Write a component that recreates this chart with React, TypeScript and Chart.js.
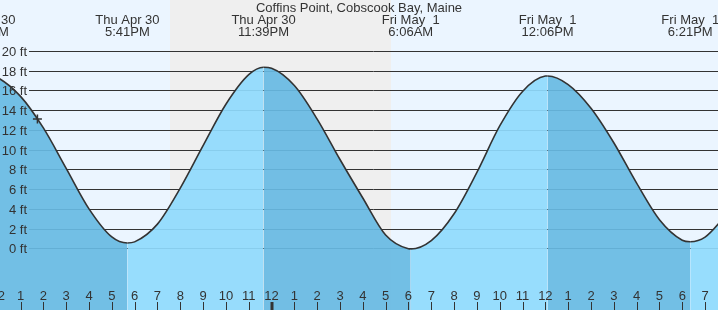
import React, { useEffect, useRef } from "react";
import { Chart, registerables } from "chart.js";

Chart.register(...registerables);

const TITLE = "Coffins Point, Cobscook Bay, Maine";

// hours counted from Thu Apr 30 00:00
const tideHours = [
  11.37, 12, 13, 14, 15, 16, 17, 17.683, 18, 19, 20, 21, 22, 23, 23.65, 24, 25,
  26, 27, 28, 29, 30, 30.1, 31, 32, 33, 34, 35, 36, 36.1, 37, 38, 39, 40, 41, 42,
  42.35, 43, 44,
];
const tideFeet = [
  17.7, 17.3, 15.4, 12.2, 8.1, 4.0, 1.15, 0.54, 0.65, 2.45, 6.1, 10.4, 14.6,
  17.6, 18.35, 18.25, 16.5, 13.1, 9.0, 5.1, 1.35, -0.05, -0.07, 0.78, 3.5, 7.7,
  12.4, 15.9, 17.46, 17.47, 16.6, 14.2, 10.7, 6.6, 2.9, 0.82, 0.67, 1.14, 3.6,
];

const eventHours = [11.37, 17.683, 23.65, 30.1, 36.1, 42.35];
const eventDays = [
  "Thu Apr 30",
  "Thu Apr 30",
  "Thu Apr 30",
  "Fri May  1",
  "Fri May  1",
  "Fri May  1",
];
const eventTimes = ["11:22AM", "5:41PM", "11:39PM", "6:06AM", "12:06PM", "6:21PM"];

const nightStarts = [19.55];
const nightEnds = [29.24];

const yTickFeet = [0, 2, 4, 6, 8, 10, 12, 14, 16, 18, 20];

const nowHour = 13.74;
const nowFeet = 13.1;

const X_MIN = 12.1;
const X_MAX = 43.566;
const Y_MIN = -6.255;
const Y_MAX = 25.17;

const DAY_BG = "#ebf5ff";
const NIGHT_BG = "#efefef";
const FALL_FILL = "rgba(103,186,227,0.92)";
const RISE_FILL = "rgba(143,218,253,0.92)";
const INK = "#333333";
const FONT = "13px 'Liberation Sans', Arial, sans-serif";

const decorPlugin = {
  id: "tideDecor",
  beforeDatasetsDraw(chart: any) {
    const { ctx, chartArea: a } = chart;
    const xs = chart.scales.x;
    const ys = chart.scales.y;
    ctx.save();
    ctx.fillStyle = DAY_BG;
    ctx.fillRect(a.left, a.top, a.right - a.left, a.bottom - a.top);
    ctx.fillStyle = NIGHT_BG;
    nightStarts.forEach((s, i) => {
      const x0 = Math.round(xs.getPixelForValue(s));
      const x1 = Math.round(xs.getPixelForValue(nightEnds[i]));
      ctx.fillRect(x0, a.top, x1 - x0, a.bottom - a.top);
    });
    ctx.strokeStyle = INK;
    ctx.lineWidth = 1;
    yTickFeet.forEach((v) => {
      const py = Math.round(ys.getPixelForValue(v)) + 0.5;
      ctx.beginPath();
      ctx.moveTo(29, py);
      ctx.lineTo(a.right, py);
      ctx.stroke();
    });
    ctx.restore();
  },
  afterDraw(chart: any) {
    const { ctx, chartArea: a } = chart;
    const xs = chart.scales.x;
    const ys = chart.scales.y;
    ctx.save();
    ctx.font = FONT;
    ctx.fillStyle = INK;
    ctx.textBaseline = "alphabetic";

    // y labels
    ctx.textAlign = "right";
    yTickFeet.forEach((v) => {
      const py = ys.getPixelForValue(v);
      ctx.fillText(v + " ft", 27, Math.round(py) + 5);
    });

    // title
    ctx.textAlign = "center";
    ctx.fillText(TITLE, (a.left + a.right) / 2, 12);

    // event labels
    eventHours.forEach((h, i) => {
      const px = xs.getPixelForValue(h);
      ctx.fillText(eventDays[i], px, 24);
      ctx.fillText(eventTimes[i], px, 36);
    });

    // hour ticks
    ctx.strokeStyle = INK;
    for (let h = Math.ceil(X_MIN - 1); h <= Math.floor(X_MAX); h++) {
      const px = xs.getPixelForValue(h);
      const lab = String(h % 12 === 0 ? 12 : h % 12);
      ctx.fillText(lab, px, 300);
      if (h % 24 === 0) {
        ctx.fillRect(Math.round(px) - 1.5, 302, 3, 8);
      } else {
        const rx = Math.round(px) + 0.5;
        ctx.beginPath();
        ctx.lineWidth = 1;
        ctx.moveTo(rx, 302);
        ctx.lineTo(rx, 310);
        ctx.stroke();
      }
    }
    ctx.restore();
  },
};

export default function App() {
  const canvasRef = useRef<HTMLCanvasElement | null>(null);

  useEffect(() => {
    const canvas = canvasRef.current;
    if (!canvas) return;
    const tidePoints = tideHours.map((h, i) => ({ x: h, y: tideFeet[i] }));
    const chart = new Chart(canvas, {
      type: "line",
      data: {
        datasets: [
          {
            data: [{ x: nowHour, y: nowFeet }],
            showLine: false,
            pointStyle: "cross",
            pointRadius: 4.5,
            pointBorderWidth: 1.5,
            borderColor: INK,
            pointBorderColor: INK,
            fill: false,
            order: 0,
          } as any,
          {
            data: tidePoints,
            borderColor: INK,
            borderWidth: 1.6,
            pointRadius: 0,
            cubicInterpolationMode: "monotone",
            fill: "start",
            backgroundColor: FALL_FILL,
            segment: {
              backgroundColor: (c: any) =>
                c.p1.parsed.y > c.p0.parsed.y ? RISE_FILL : FALL_FILL,
            },
            order: 1,
          } as any,
        ],
      },
      options: {
        responsive: false,
        animation: false,
        devicePixelRatio: 1,
        layout: { padding: 0, autoPadding: false },
        plugins: {
          legend: { display: false },
          tooltip: { enabled: false },
          title: { display: false },
        },
        scales: {
          x: { type: "linear", min: X_MIN, max: X_MAX, display: false },
          y: { type: "linear", min: Y_MIN, max: Y_MAX, display: false },
        },
      },
      plugins: [decorPlugin],
    });
    return () => chart.destroy();
  }, []);

  return (
    <div style={{ position: "absolute", left: 0, top: 0, width: 718, height: 310 }}>
      <canvas ref={canvasRef} width={718} height={310} style={{ display: "block" }} />
    </div>
  );
}
